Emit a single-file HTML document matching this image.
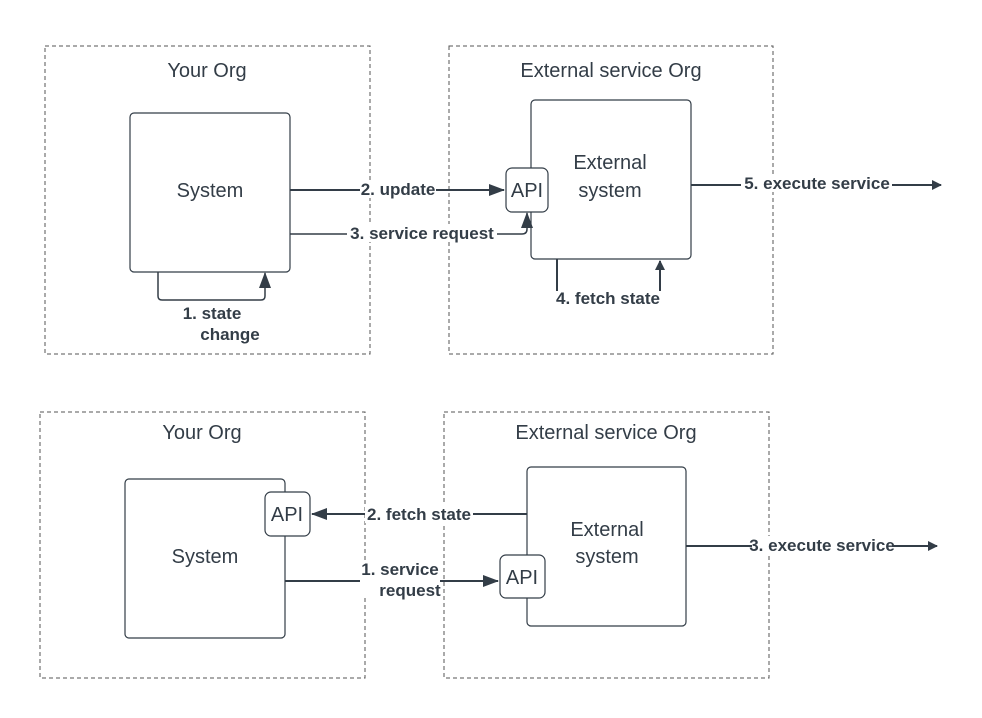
<!DOCTYPE html>
<html><head><style>body{margin:0;background:#fff}svg{display:block}</style></head><body>
<svg width="982" height="718" viewBox="0 0 982 718" xmlns="http://www.w3.org/2000/svg" font-family="Liberation Sans, sans-serif">
<defs><marker id="a" markerWidth="10" markerHeight="10" refX="9" refY="5" orient="auto" markerUnits="userSpaceOnUse"><path d="M0,0 L10,5 L0,10 z" fill="#333d47"/></marker>
<marker id="b" markerWidth="16" markerHeight="12" refX="15" refY="6" orient="auto" markerUnits="userSpaceOnUse"><path d="M0,0 L16,6 L0,12 z" fill="#333d47"/></marker></defs>
<g fill="none" stroke="#555" stroke-width="1" stroke-dasharray="4,3">
<rect x="45" y="46" width="325" height="308"/><rect x="449" y="46" width="324" height="308"/>
<rect x="40" y="412" width="325" height="266"/><rect x="444" y="412" width="325" height="266"/>
</g>
<g fill="#fff" stroke="#333d47" stroke-width="1.2">
<rect x="130" y="113" width="160" height="159" rx="4"/>
<rect x="531" y="100" width="160" height="159" rx="4"/>
<rect x="125" y="479" width="160" height="159" rx="4"/>
<rect x="527" y="467" width="159" height="159" rx="4"/>
</g>
<g fill="none" stroke="#333d47" stroke-width="2">
<path d="M290,190 H504" marker-end="url(#b)"/>
<path d="M290,234 H522 Q527,234 527,229 V213" marker-end="url(#b)" stroke-width="1.5"/>
<path d="M158,272 V296 Q158,300 162,300 H261 Q265,300 265,296 V273" marker-end="url(#b)" stroke-width="1.5"/>
<path d="M557,259 V291"/>
<path d="M660,291 V261" marker-end="url(#a)"/>
<path d="M691,185 H941" marker-end="url(#a)"/>
<path d="M527,514 H312" marker-end="url(#b)"/>
<path d="M285,581 H498" marker-end="url(#b)"/>
<path d="M686,546 H937" marker-end="url(#a)"/>
</g>
<g fill="#fff" stroke="#333d47" stroke-width="1.2">
<rect x="506" y="168" width="42" height="44" rx="6"/>
<rect x="265" y="492" width="45" height="44" rx="6"/>
<rect x="500" y="555" width="45" height="43" rx="6"/>
</g>
<g fill="#333d47" font-size="20" text-anchor="middle">
<text x="207" y="77">Your Org</text><text x="611" y="77">External service Org</text>
<text x="202" y="439">Your Org</text><text x="606" y="439">External service Org</text>
<text x="210" y="197">System</text><text x="610" y="169">External</text><text x="610" y="197">system</text>
<text x="205" y="563">System</text><text x="607" y="536">External</text><text x="607" y="563">system</text>
<text x="527" y="197">API</text><text x="287" y="521">API</text><text x="522" y="584">API</text>
</g>
<g fill="#333d47" font-size="17" font-weight="bold" text-anchor="middle">
<rect x="360" y="180" width="76" height="18" fill="#fff"/><text x="398" y="195">2. update</text>
<rect x="347" y="224" width="150" height="18" fill="#fff"/><text x="422" y="239">3. service request</text>
<text x="212" y="319">1. state</text><text x="230" y="340">change</text>
<text x="608" y="304">4. fetch state</text>
<rect x="741" y="174" width="151" height="18" fill="#fff"/><text x="817" y="189">5. execute service</text>
<rect x="365" y="505" width="108" height="18" fill="#fff"/><text x="419" y="520">2. fetch state</text>
<rect x="360" y="560" width="80" height="38" fill="#fff"/><text x="400" y="575">1. service</text><text x="410" y="596">request</text>
<rect x="752" y="536" width="140" height="18" fill="#fff"/><text x="822" y="551">3. execute service</text>
</g>
</svg>
</body></html>
